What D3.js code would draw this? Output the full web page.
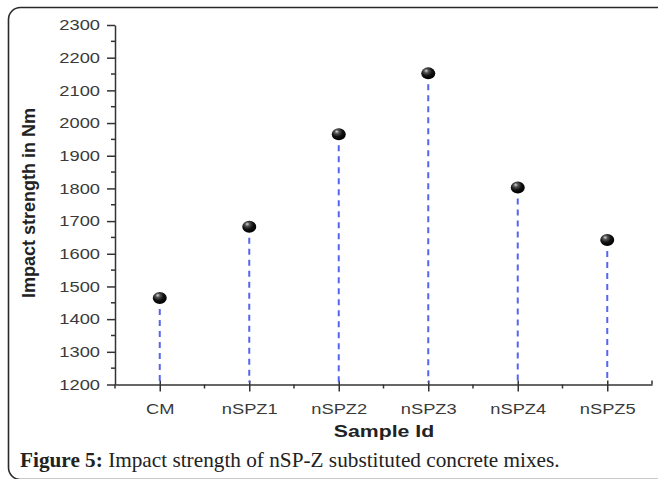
<!DOCTYPE html>
<html>
<head>
<meta charset="utf-8">
<script src="https://cdn.jsdelivr.net/npm/d3@7"></script>
<style>
  html, body { margin: 0; padding: 0; background: #fff; }
  svg { display: block; }
</style>
</head>
<body>
<svg id="chart"></svg>
<script>
// data
const samples = ['CM', 'nSPZ1', 'nSPZ2', 'nSPZ3', 'nSPZ4', 'nSPZ5'];
const strength = [1465, 1683, 1966, 2152, 1803, 1642];
const yTicks = [1200, 1300, 1400, 1500, 1600, 1700, 1800, 1900, 2000, 2100, 2200, 2300];

const width = 658;
const height = 479;
const stretchX = 1.22; // the source image is a bit wide, text looks stretched

const svg = d3.select('#chart')
    .attr('width', width)
    .attr('height', height);

const defs = svg.append('defs');
const grad = defs.append('radialGradient')
    .attr('id', 'ball')
    .attr('cx', '40%')
    .attr('cy', '35%')
    .attr('r', '65%')
    .attr('fx', '35%')
    .attr('fy', '28%');
grad.append('stop').attr('offset', '0%').attr('stop-color', '#d8d8d8');
grad.append('stop').attr('offset', '25%').attr('stop-color', '#555');
grad.append('stop').attr('offset', '60%').attr('stop-color', '#111');
grad.append('stop').attr('offset', '100%').attr('stop-color', '#000');

// rounded frame of the figure box
svg.append('rect')
    .attr('x', 8.5)
    .attr('y', 7.5)
    .attr('width', 720)
    .attr('height', 472)
    .attr('rx', 12)
    .style('fill', 'none')
    .style('stroke', '#2a2a2a')
    .style('stroke-width', 1.6);

const x = d3.scalePoint()
    .domain(samples)
    .range([115, 652])
    .padding(0.5);

const y = d3.scaleLinear()
    .domain([1200, 2300])
    .range([384.5, 25]);

const axisColor = '#333';
const labelColor = '#3a3a3a';

function stretch(sel, k) {
    sel.each(function() {
        const w = this.getComputedTextLength();
        d3.select(this)
            .attr('textLength', w * k)
            .attr('lengthAdjust', 'spacingAndGlyphs');
    });
}

// y axis
const yAxis = svg.append('g')
    .attr('transform', 'translate(115,0)')
    .call(d3.axisLeft(y)
        .tickValues(yTicks)
        .tickFormat(d3.format('d'))
        .tickSize(8)
        .tickPadding(7)
        .tickSizeOuter(0));
yAxis.select('.domain').style('stroke', axisColor).style('stroke-width', 1.5);
yAxis.selectAll('.tick line').style('stroke', axisColor).style('stroke-width', 1.5);
yAxis.selectAll('.tick text')
    .style('font-family', 'Liberation Sans, Arial, sans-serif')
    .style('font-size', '15px')
    .style('fill', labelColor)
    .call(stretch, stretchX);

// minor y ticks
svg.append('g')
    .selectAll('line')
    .data(yTicks.slice(0, -1).map((v) => v + 50))
    .enter()
    .append('line')
    .attr('x1', 111)
    .attr('x2', 115)
    .attr('y1', (d) => y(d))
    .attr('y2', (d) => y(d))
    .style('stroke', axisColor)
    .style('stroke-width', 1.5);

// x axis
const xAxis = svg.append('g')
    .attr('transform', 'translate(0,' + y(1200) + ')')
    .call(d3.axisBottom(x).tickSize(7).tickPadding(12).tickSizeOuter(0));
xAxis.select('.domain').style('stroke', axisColor).style('stroke-width', 1.5);
xAxis.selectAll('.tick line')
    .attr('y1', -4)
    .style('stroke', axisColor)
    .style('stroke-width', 1.5);
xAxis.selectAll('.tick text')
    .style('font-family', 'Liberation Sans, Arial, sans-serif')
    .style('font-size', '15px')
    .style('fill', labelColor)
    .call(stretch, stretchX);

// minor x ticks halfway between samples
const step = x.step();
const halfPos = [x(samples[0]) - step / 2].concat(samples.map((s) => x(s) + step / 2));
svg.append('g')
    .selectAll('line')
    .data(halfPos)
    .enter()
    .append('line')
    .attr('x1', (d) => d)
    .attr('x2', (d) => d)
    .attr('y1', (d, i) => i === halfPos.length - 1 ? y(1200) - 4 : y(1200))
    .attr('y2', (d, i) => i === halfPos.length - 1 ? y(1200) : y(1200) + 4)
    .style('stroke', axisColor)
    .style('stroke-width', 1.5);

// drop lines
svg.append('g')
    .selectAll('line')
    .data(samples)
    .enter()
    .append('line')
    .attr('x1', (d) => x(d))
    .attr('x2', (d) => x(d))
    .attr('y1', (d, i) => y(strength[i]) + 11)
    .attr('y2', y(1200) - 2)
    .style('stroke', '#5566ee')
    .style('stroke-width', 2)
    .style('stroke-dasharray', '6,5');

// ball markers
svg.append('g')
    .selectAll('ellipse')
    .data(samples)
    .enter()
    .append('ellipse')
    .attr('cx', (d) => x(d))
    .attr('cy', (d, i) => y(strength[i]))
    .attr('rx', 7)
    .attr('ry', 6)
    .style('fill', 'url(#ball)');

// axis titles
svg.append('text')
    .attr('transform', 'translate(35,203) rotate(-90)')
    .attr('text-anchor', 'middle')
    .style('font-family', 'Liberation Sans, Arial, sans-serif')
    .style('font-weight', 'bold')
    .style('font-size', '18px')
    .style('fill', '#222')
    .text('Impact strength in Nm');

svg.append('text')
    .attr('x', 384)
    .attr('y', 437)
    .attr('text-anchor', 'middle')
    .style('font-family', 'Liberation Sans, Arial, sans-serif')
    .style('font-weight', 'bold')
    .style('font-size', '17px')
    .style('fill', '#222')
    .text('Sample Id')
    .call(stretch, 1.25);

// caption
const caption = svg.append('text')
    .attr('x', 20)
    .attr('y', 467)
    .style('font-family', 'Liberation Serif, Times New Roman, serif')
    .style('font-size', '20px')
    .style('fill', '#222');
caption.append('tspan')
    .style('font-weight', 'bold')
    .text('Figure 5: ');
caption.append('tspan')
    .text('Impact strength of nSP-Z substituted concrete mixes.');
const capW = caption.node().getComputedTextLength();
caption.style('font-size', (20 * 540 / capW) + 'px');
</script>
</body>
</html>
